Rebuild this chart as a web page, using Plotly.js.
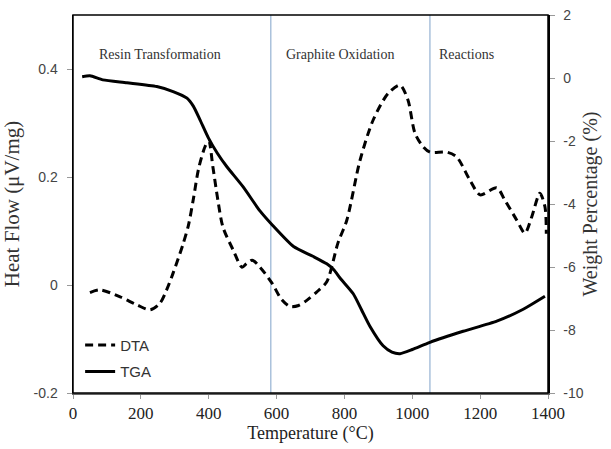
<!DOCTYPE html>
<html>
<head>
<meta charset="utf-8">
<script src="https://cdn.plot.ly/plotly-3.0.1.min.js"></script>
<style>html,body{margin:0;padding:0;background:#fff;}#chart{width:611px;height:449px;}</style>
</head>
<body>
<div id="chart"></div>
<script>
// DTA (heat flow, left axis)
const dtaTemp = [50, 80, 139, 189, 227, 256, 276, 295, 324, 340, 355, 370, 389, 400, 412, 427, 442, 472, 498, 512, 528, 551, 586, 615, 640, 665, 690, 720, 748, 781, 807, 846, 885, 929, 964, 987, 1008, 1032, 1052, 1102, 1131, 1170, 1200, 1249, 1273, 1308, 1332, 1352, 1376, 1391, 1395];
const dtaHeat = [-0.014, -0.009, -0.022, -0.037, -0.046, -0.034, -0.009, 0.022, 0.075, 0.11, 0.16, 0.215, 0.256, 0.267, 0.22, 0.157, 0.107, 0.065, 0.033, 0.04, 0.046, 0.033, 0.004, -0.027, -0.040, -0.038, -0.028, -0.012, 0.006, 0.078, 0.12, 0.231, 0.306, 0.355, 0.37, 0.343, 0.281, 0.256, 0.246, 0.246, 0.237, 0.194, 0.167, 0.18, 0.157, 0.12, 0.096, 0.126, 0.170, 0.145, 0.095];
// TGA (weight percentage, right axis)
const tgaTemp = [27, 50, 88, 159, 247, 295, 336, 355, 374, 399, 425, 453, 501, 551, 586, 650, 707, 748, 770, 787, 826, 850, 875, 914, 940, 964, 1000, 1052, 1150, 1249, 1327, 1391];
const tgaWeight = [0.04, 0.07, -0.06, -0.15, -0.27, -0.43, -0.64, -0.90, -1.32, -1.9, -2.38, -2.81, -3.45, -4.22, -4.65, -5.35, -5.66, -5.9, -6.1, -6.35, -6.85, -7.35, -7.88, -8.5, -8.7, -8.75, -8.62, -8.39, -8.04, -7.72, -7.34, -6.93];
// regions
const regionBounds = [583, 1052];
const regionNames = ["Resin Transformation", "Graphite Oxidation", "Reactions"];
const regionCenters = [256, 787, 1161];
// ticks
const xTicks = [0, 200, 400, 600, 800, 1000, 1200, 1400];
const yLeftTicks = [-0.2, 0, 0.2, 0.4];
const yLeftText = ["-0.2", "0", "0.2", "0.4"];
const yRightTicks = [-10, -8, -6, -4, -2, 0, 2];
const yRightText = ["-10", "-8", "-6", "-4", "-2", "0", "2"];

const serif = "'Liberation Serif', 'Times New Roman', serif";
const sans = "'Liberation Sans', Arial, sans-serif";

const traces = [
  {x: dtaTemp, y: dtaHeat, name: "DTA", type: "scatter", mode: "lines", yaxis: "y",
   legendgroup: "a",
   line: {color: "#000", width: 3, dash: "8px,5px", shape: "spline", smoothing: 0.8}},
  {x: tgaTemp, y: tgaWeight, name: "TGA", type: "scatter", mode: "lines", yaxis: "y2",
   legendgroup: "b",
   line: {color: "#000", width: 3, shape: "spline", smoothing: 0.6}}
];

const shapes = regionBounds.map(b => ({type: "line", xref: "x", yref: "paper", x0: b, x1: b, y0: 0, y1: 1,
  line: {color: "#9db8d6", width: 1.3}, layer: "below"}));
shapes.push({type: "rect", xref: "paper", yref: "paper", x0: 0, x1: 1, y0: 0, y1: 1, line: {color: "#000", width: 1.5}});

const annotations = regionNames.map((t, i) => ({text: t, x: regionCenters[i], xref: "x", y: 0.92, yref: "paper",
  showarrow: false, font: {family: serif, size: 14, color: "#333"}}));

const layout = {
  width: 611, height: 449,
  margin: {l: 73, r: 63, t: 15, b: 56},
  paper_bgcolor: "#fff", plot_bgcolor: "#fff",
  showlegend: true,
  legend: {x: 0.015, xanchor: "left", y: 0.17, yanchor: "top", bgcolor: "rgba(0,0,0,0)",
    font: {family: sans, size: 15, color: "#333"}, tracegroupgap: 4, itemwidth: 30},
  xaxis: {range: [0, 1400], tickvals: xTicks, ticktext: xTicks.map(String), showgrid: false, zeroline: false,
    showline: true, linecolor: "#666", linewidth: 2, ticks: "outside", ticklen: 4, tickcolor: "#999",
    tickfont: {family: serif, size: 17, color: "#222"},
    title: {text: "Temperature (°C)", font: {family: serif, size: 18, color: "#222"}, standoff: 4}},
  yaxis: {range: [-0.2, 0.5], tickvals: yLeftTicks, ticktext: yLeftText, showgrid: false, zeroline: false,
    showline: true, linecolor: "#000", linewidth: 1.5, ticks: "outside", ticklen: 5, tickcolor: "#999",
    ticklabelstandoff: 6,
    tickfont: {family: sans, size: 14, color: "#444"},
    title: {text: "Heat Flow (μV/mg)", font: {family: serif, size: 21, color: "#333"}, standoff: 8}},
  yaxis2: {range: [-10, 2], tickvals: yRightTicks, ticktext: yRightText, overlaying: "y", side: "right",
    showgrid: false, zeroline: false, showline: true, linecolor: "#000", linewidth: 1.5,
    ticks: "outside", ticklen: 5, tickcolor: "#999", ticklabelstandoff: 6,
    tickfont: {family: sans, size: 14, color: "#444"},
    title: {text: "Weight Percentage (%)", font: {family: serif, size: 20, color: "#333"}, standoff: 0}},
  shapes: shapes,
  annotations: annotations
};

Plotly.newPlot("chart", traces, layout, {displayModeBar: false, staticPlot: true});
</script>
</body>
</html>
